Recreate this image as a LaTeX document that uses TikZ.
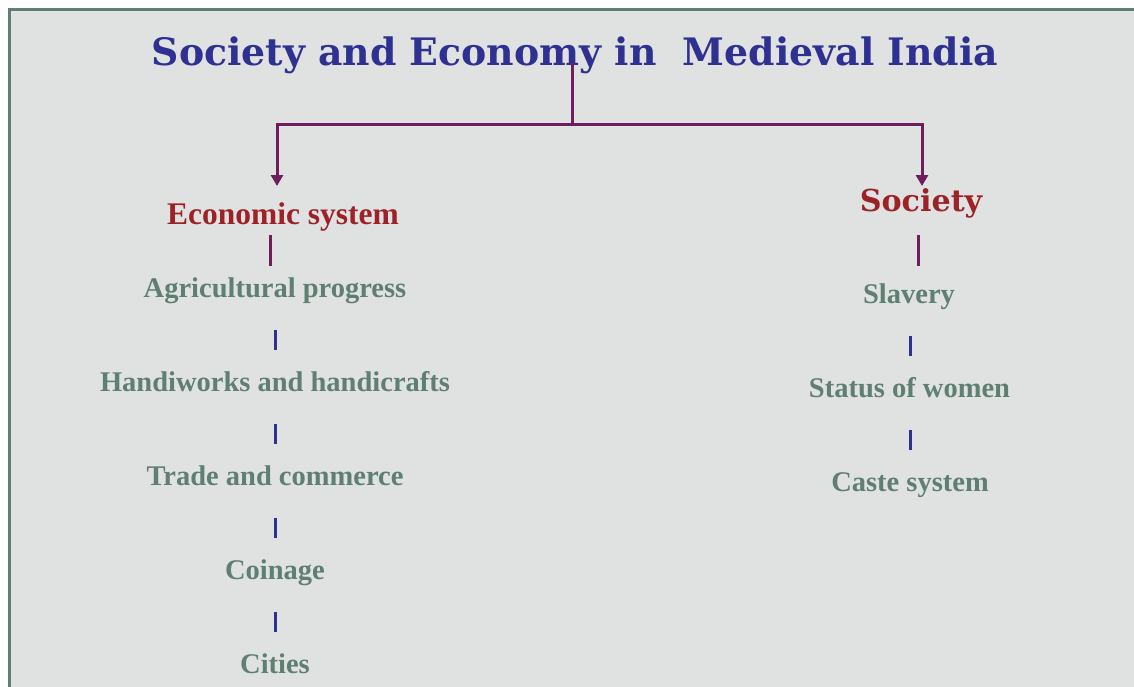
\documentclass[tikz,border=0pt]{standalone}
\usepackage{fontspec}
\setmainfont{Liberation Serif}
\newfontfamily\slabfont{DejaVu Serif}
\usetikzlibrary{arrows.meta}
\definecolor{bgc}{HTML}{E0E2E1}
\definecolor{framec}{HTML}{5F8070}
\definecolor{titleblue}{HTML}{2E3192}
\definecolor{headred}{HTML}{9C2228}
\definecolor{itemgreen}{HTML}{5E7F71}
\definecolor{linkpurple}{HTML}{6E1E5C}
\tikzset{
  title/.style={font=\slabfont\bfseries\fontsize{37.8}{44}\selectfont, text=titleblue, inner sep=0pt, anchor=base},
  headA/.style={font=\bfseries\fontsize{31.5}{36}\selectfont, text=headred, inner sep=0pt, anchor=base},
  headB/.style={font=\slabfont\bfseries\fontsize{30.2}{35}\selectfont, text=headred, inner sep=0pt, anchor=base},
  item/.style={font=\bfseries\fontsize{28.5}{34}\selectfont, text=itemgreen, inner sep=0pt, anchor=base},
  arrowlink/.style={draw=linkpurple, line width=3pt, -{Triangle[width=12pt,length=11pt]}},
  purplelink/.style={draw=linkpurple, line width=3pt},
  tick/.style={draw=titleblue, line width=3pt},
}
\begin{document}
\begin{tikzpicture}[x=1pt,y=-1pt]
\useasboundingbox (0,0) rectangle (1134,686);
\fill[white] (0,0) rectangle (1134,686);
\fill[bgc] (10,10) rectangle (1140,690);
\draw[framec, line width=3pt] (9.5,696) -- (9.5,9.5) -- (1140,9.5);

\node[title] (t) at (575,65) {Society and Economy in \ Medieval India};

\node[headA] (econ) at (283,224) {Economic system};
\node[headB] (soc) at (921,211.5) {Society};

\node[item] (agr) at (275,297.5) {Agricultural progress};
\node[item] (hand) at (275,391.5) {Handiworks and handicrafts};
\node[item] (trade) at (275,485.5) {Trade and commerce};
\node[item] (coin) at (275,579.5) {Coinage};
\node[item] (city) at (275,673) {Cities};

\node[item] (slav) at (909,303.3) {Slavery};
\node[item] (women) at (909.5,397) {Status of women};
\node[item] (caste) at (910,491) {Caste system};

\coordinate (tj) at (572.5,63);
\coordinate (hj) at (572.5,124);
\coordinate (ea) at (277,186);
\coordinate (sa) at (922,186);
\draw[arrowlink] (tj) -- (hj) -| (ea);
\draw[arrowlink] (hj) -| (sa);

\draw[purplelink] (270,235) -- (270,266);
\draw[purplelink] (918.5,235) -- (918.5,266);

\draw[tick] (275,330) -- (275,350);
\draw[tick] (275,424) -- (275,444);
\draw[tick] (275,518) -- (275,538);
\draw[tick] (275,612) -- (275,632);
\draw[tick] (910,336) -- (910,356);
\draw[tick] (910,430) -- (910,450);
\end{tikzpicture}
\end{document}
